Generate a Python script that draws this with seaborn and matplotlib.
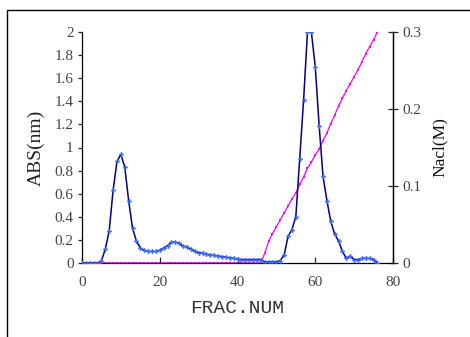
import numpy as np
import pandas as pd
import matplotlib
matplotlib.use("Agg")
import matplotlib.pyplot as plt
import seaborn as sns
from matplotlib.patches import Rectangle

# ---- data ----
fractions = list(range(0, 77))
absorbance = [0, 0, 0, 0, 0, 0.02, 0.12, 0.28, 0.63, 0.88,
              0.94, 0.83, 0.54, 0.30, 0.19, 0.13, 0.11, 0.10, 0.10, 0.10,
              0.11, 0.13, 0.15, 0.18, 0.18, 0.17, 0.145, 0.14, 0.12, 0.10,
              0.09, 0.085, 0.075, 0.07, 0.065, 0.06, 0.055, 0.05, 0.046, 0.04,
              0.035, 0.03, 0.03, 0.03, 0.03, 0.03, 0.03, 0.01, 0.01, 0.01,
              0.01, 0.02, 0.07, 0.23, 0.29, 0.40, 0.90, 1.41, 2.0, 2.0,
              1.70, 1.19, 0.75, 0.54, 0.36, 0.25, 0.19, 0.10, 0.04, 0.06,
              0.03, 0.03, 0.04, 0.04, 0.04, 0.03, 0.0]
nacl = [0] * 47 + [0.0126, 0.028, 0.038, 0.047, 0.056, 0.065, 0.074, 0.083,
                   0.091, 0.102, 0.112, 0.123, 0.131, 0.140, 0.148, 0.159,
                   0.169, 0.181, 0.192, 0.204, 0.214, 0.224, 0.233, 0.242,
                   0.251, 0.261, 0.272, 0.281, 0.290, 0.300]
x_ticks = [0, 20, 40, 60, 80]
y_left_ticks = [0, 0.2, 0.4, 0.6, 0.8, 1, 1.2, 1.4, 1.6, 1.8, 2]
y_left_labels = ["0", "0.2", "0.4", "0.6", "0.8", "1", "1.2", "1.4", "1.6", "1.8", "2"]
y_right_ticks = [0, 0.1, 0.2, 0.3]
y_right_labels = ["0", "0.1", "0.2", "0.3"]

df = pd.DataFrame({"frac": fractions, "abs": absorbance, "nacl": nacl})

sns.set_style("ticks")
plt.rcParams["font.family"] = ["Liberation Serif", "DejaVu Serif"]

fig = plt.figure(figsize=(4.70, 3.37), dpi=100)
ax = fig.add_axes([82 / 470, 1 - 263 / 337, (393 - 82) / 470, (263 - 32) / 337])
ax2 = ax.twinx()

sns.lineplot(data=df, x="frac", y="nacl", ax=ax2, color="#ff00ff", lw=0.9,
             marker="s", markersize=2.0, markeredgewidth=0, zorder=2)
sns.lineplot(data=df, x="frac", y="abs", ax=ax, color="#000080", lw=1.1,
             marker="P", markersize=3.4, markeredgewidth=0,
             markerfacecolor="#3a6cf5", zorder=3)

ax.set_zorder(ax2.get_zorder() + 1)
ax.patch.set_visible(False)

ax.set_xlim(0, 80)
ax.set_ylim(0, 2)
ax2.set_ylim(0, 0.3)

ax.set_xticks(x_ticks)
ax.set_xticklabels([str(t) for t in x_ticks])
ax.set_yticks(y_left_ticks)
ax.set_yticklabels(y_left_labels)
ax2.set_yticks(y_right_ticks)
ax2.set_yticklabels(y_right_labels)

for a in (ax, ax2):
    a.spines["top"].set_visible(False)
    for s in a.spines.values():
        s.set_linewidth(0.9)
        s.set_color("black")
ax2.spines["left"].set_visible(False)
ax2.spines["bottom"].set_visible(False)

ax.tick_params(axis="x", direction="in", length=4, width=0.9, labelsize=11,
               pad=9, labelcolor="#444444")
ax.tick_params(axis="y", direction="out", length=3, width=0.9, labelsize=11,
               pad=3, labelcolor="#444444")
ax2.tick_params(axis="y", direction="inout", length=7, width=0.9, labelsize=11,
                pad=3, labelcolor="#444444")

ax.set_xlabel("FRAC.NUM", fontsize=14, family=["Liberation Mono"], labelpad=8,
              color="#333333")
ax.set_ylabel("ABS(nm)", fontsize=14, labelpad=7, color="#222222")
ax2.set_ylabel("Nacl(M)", fontsize=12.5, labelpad=8, color="#111111")

# outer frame
fig.patches.append(Rectangle((7 / 470, -0.2), 1.2, 1 - 10 / 337 + 0.2,
                             transform=fig.transFigure, fill=False,
                             edgecolor="black", lw=1.0, clip_on=False))

fig.savefig("out.png", dpi=100)
